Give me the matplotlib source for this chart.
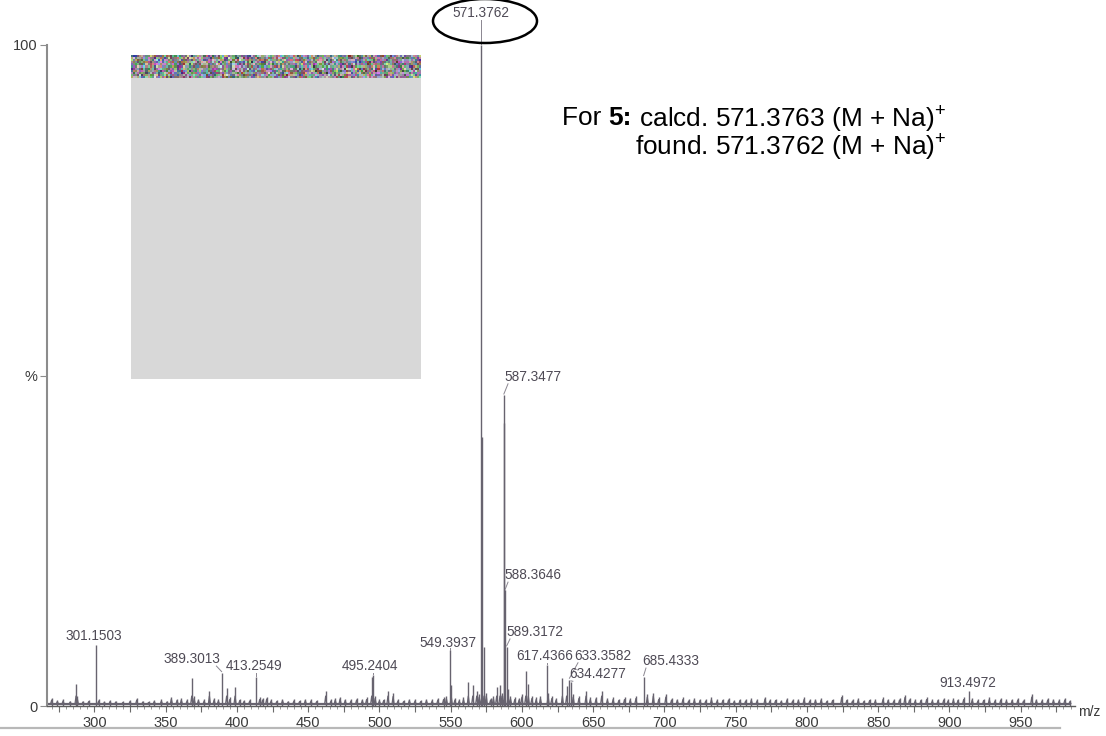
import numpy as np
import matplotlib
matplotlib.use("Agg")
import matplotlib.pyplot as plt
from matplotlib.patches import Ellipse, Rectangle
from matplotlib.lines import Line2D
from matplotlib.transforms import offset_copy

plt.rcParams['font.family'] = ['Liberation Sans', 'DejaVu Sans']
plt.rcParams['mathtext.fontset'] = 'custom'
plt.rcParams['mathtext.rm'] = 'Liberation Sans'
plt.rcParams['mathtext.bf'] = 'Liberation Sans:bold'

# Labelled peaks (m/z, relative intensity %)
peak_mz = [301.1503, 389.3013, 413.2549, 495.2404, 549.3937, 571.3762,
           587.3477, 588.3646, 589.3172, 617.4366, 633.3582, 634.4277,
           685.4333, 913.4972]
peak_int = [9.3, 5.0, 4.4, 4.7, 8.5, 100.0,
            47.0, 17.5, 8.9, 6.2, 4.0, 3.6,
            4.4, 2.2]

# Label anchor (centre) for each labelled peak, m/z and %
label_mz = [299.6, 368.1, 412.0, 493.4, 548.1, 571.4,
            607.8, 607.8, 609.2, 616.2, 656.9, 653.3,
            704.6, 913.1]
label_int = [10.6, 7.1, 6.05, 6.05, 9.5, 104.9,
             49.8, 19.8, 11.2, 7.6, 7.6, 4.8,
             6.8, 3.5]

# Unlabelled signals
minor_mz = [270, 274, 278, 283, 287.1, 288, 292, 296, 303, 307, 311, 315, 320,
            325, 329.7, 334, 338, 342, 347, 351, 354, 358, 361, 365, 368.3, 370,
            373, 377, 380.7, 384, 387, 392.8, 395, 398.7, 402, 405, 409, 416,
            418, 420.9, 424, 428, 432, 436, 440, 444, 448, 452, 456, 462.3, 466,
            469, 472.4, 476, 480, 484, 488, 491, 494.6, 497, 500, 503, 506,
            509.6, 513, 517, 521, 525, 529, 533, 537, 541, 545, 547, 550.4, 553,
            556, 559, 562.4, 565.5, 568.3, 570, 571.9, 573.4, 575, 578, 580,
            582.3, 584.6, 586, 587.7, 590.3, 592, 595, 598, 600, 602.7, 604.5,
            607, 610, 613, 618.4, 621, 624, 628.4, 631.4, 636, 640, 645, 648,
            652, 656, 660, 664, 668, 672, 676, 680, 688, 692.2, 696, 701, 705,
            709, 713, 717, 721, 725, 729, 733, 737, 741, 745, 749, 753, 757,
            761, 765, 770.6, 774, 778, 782, 786, 790, 794, 798, 802, 806, 810,
            814, 818, 824.4, 828, 832, 836, 840, 844, 848, 853.4, 857, 861, 865,
            868.8, 872, 876, 880, 884, 888, 892, 896, 899, 902.8, 906, 910, 916,
            920, 924, 928, 932, 936, 940, 944, 948, 952, 957.8, 961, 965, 969,
            973, 977, 981, 984.6]
minor_int = [1.2, 0.9, 1.0, 0.8, 3.3, 1.5, 0.8, 0.9, 1.0, 0.7, 0.9, 0.8, 0.7,
             0.9, 1.2, 0.8, 0.7, 0.9, 1.0, 0.8, 1.4, 1.1, 1.2, 1.0, 4.3, 1.5,
             1.1, 1.0, 2.3, 1.2, 1.0, 2.7, 1.3, 2.9, 1.1, 0.9, 1.0, 1.3,
             1.2, 1.4, 1.0, 0.9, 1.1, 0.8, 1.0, 0.9, 1.1, 1.0, 0.9, 2.3, 1.0,
             1.2, 1.4, 1.1, 1.0, 1.2, 1.1, 1.3, 4.4, 1.5, 1.0, 1.1, 2.2,
             1.9, 1.0, 0.9, 1.1, 1.0, 0.9, 1.1, 1.0, 1.2, 1.3, 1.5, 3.2, 1.2,
             1.0, 1.3, 3.7, 3.2, 2.2, 1.8, 40.7, 9.0, 2.0, 1.2, 1.5,
             2.9, 3.2, 2.0, 42.8, 2.5, 1.5, 1.3, 1.2, 1.8, 5.3, 3.4,
             1.5, 1.3, 1.5, 2.0, 1.5, 1.2, 4.2, 3.0, 1.8, 1.5, 2.2, 1.3,
             1.4, 2.2, 1.2, 1.3, 1.1, 1.3, 1.2, 1.5, 1.8, 2.0, 1.3, 1.8, 1.2,
             1.1, 1.3, 1.0, 1.2, 1.1, 1.0, 1.3, 1.0, 1.1, 1.2, 0.9, 1.1, 1.0,
             1.2, 1.0, 1.4, 1.0, 1.1, 0.9, 1.2, 1.0, 1.1, 1.3, 1.0, 1.1, 1.2,
             0.9, 1.1, 1.7, 1.1, 1.0, 1.2, 0.9, 1.1, 1.0, 1.3, 1.1, 1.0, 1.2,
             1.7, 1.2, 1.0, 1.1, 1.3, 1.0, 1.1, 1.2, 1.0, 1.2, 1.1, 1.3, 1.2,
             1.0, 1.1, 1.3, 1.0, 1.2, 1.0, 1.1, 1.2, 1.0, 1.8, 1.1, 1.0, 1.2,
             1.1, 1.0, 1.2, 0.9]

x_ticks = list(range(275, 976, 25))
x_labels = [str(t) if t % 50 == 0 else '' for t in x_ticks]
y_ticks = [0, 50, 100]
y_labels = ['0', '%', '100']

W, H = 1106, 736
fig = plt.figure(figsize=(W / 100, H / 100), dpi=100)
fig.patch.set_facecolor('white')


def fx(px):
    return px / W


def fy(py):
    return 1 - py / H


# spectrum axes: 1.425 px per m/z unit, 300 at x=94.4 px; 0 % at y=706, 100 % at y=45
x0, x1 = 47, 1075
mz_lo = 300 - (94.4 - x0) / 1.425
mz_hi = 300 + (x1 - 94.4) / 1.425
ax = fig.add_axes([fx(x0), fy(706), fx(x1) - fx(x0), (706 - 45) / H])
ax.set_xlim(mz_lo, mz_hi)
ax.set_ylim(0, 100)

stick = '#67636f'
text_c = '#4e4a55'

# noise floor drawn as a continuous trace through the small signals
trace_x, trace_y = [267.5], [0.3]
for m, h in zip(minor_mz, minor_int):
    trace_x += [m - 0.7, m, m + 0.7]
    trace_y += [0.35, min(h, 2.0) * 0.75, 0.35]
trace_x.append(985.0)
trace_y.append(0.3)
ax.plot(trace_x, trace_y, color=stick, lw=0.9, zorder=2)
ax.hlines(0.25, 267.5, 985, color=stick, lw=1.6, zorder=2)
ax.vlines(minor_mz, 0, minor_int, color=stick, lw=1.0, zorder=2)
ax.vlines(peak_mz, 0, peak_int, color=stick, lw=1.0, zorder=3, clip_on=False)

# peak labels with leader lines
px_mz = 1 / 1.425
px_pct = 100 / 661
for m, h, lm, li in zip(peak_mz, peak_int, label_mz, label_int):
    s = f"{m:.4f}"
    ax.text(lm, li, s, ha='center', va='center', fontsize=9.8, color=text_c,
            clip_on=False, zorder=4)
    half = 28 * px_mz
    sx = min(max(m, lm - half + 3 * px_mz), lm + half - 3 * px_mz)
    sy = li - 7 * px_pct
    ax.plot([sx, m], [sy, h + 0.2], color='#8a8690', lw=0.7, clip_on=False,
            zorder=3)

ax.spines['top'].set_visible(False)
ax.spines['right'].set_visible(False)
ax.spines['left'].set_color('#8c8c8c')
ax.spines['left'].set_linewidth(1.5)
ax.spines['bottom'].set_color('#5a5a5a')
ax.spines['bottom'].set_linewidth(1.0)

ax.set_xticks(x_ticks)
ax.set_xticklabels(x_labels)
ax.set_xticks(np.arange(270, 986, 5), minor=True)
ax.tick_params(axis='x', which='major', length=4, width=0.8, color='#6a6a6a',
               labelsize=10.5, labelcolor='#3a3a3a', pad=3)
ax.tick_params(axis='x', which='minor', length=2.5, width=0.6, color='#8a8a8a')
ax.set_yticks(y_ticks)
ax.set_yticklabels(y_labels)
ax.tick_params(axis='y', length=5, width=0.8, color='#8c8c8c', labelsize=10.5,
               labelcolor='#3a3a3a', pad=2)

fig.text(fx(1078), fy(712), 'm/z', fontsize=10, color='#3a3a3a',
         ha='left', va='center')

# page rule below the axis
fig.add_artist(Line2D([0, fx(1060)], [fy(728), fy(728)], color='#b8b8b8',
                      lw=1.6))

# grey panel with speckled header
fig.add_artist(Rectangle((fx(131), fy(379)), fx(421) - fx(131),
                         (379 - 78) / H, transform=fig.transFigure,
                         facecolor='#d8d8d8', edgecolor='none'))
nax = fig.add_axes([fx(131), fy(78), fx(421) - fx(131), (78 - 55) / H])
rng = np.random.default_rng(11)
speckle = 0.5 * rng.random((11, 140, 3)) + 0.3 * rng.random((11, 140, 1)) + 0.15
nax.imshow(np.clip(speckle, 0, 1), aspect='auto', interpolation='nearest')
nax.axis('off')

# highlight ring around the base peak label
fig.add_artist(Ellipse((fx(485), fy(21)), fx(104), 44 / H,
                       transform=fig.transFigure, fill=False,
                       edgecolor='black', lw=1.8))

# formula annotation, built from pieces so the compound number can be bold
renderer = fig.canvas.get_renderer()
fs = 18.9
base = fig.transFigure
xpos = 0.0
pieces = [('For ', 'normal'), ('5:', 'bold'),
          (' calcd. 571.3763 (M + Na)$^{+}$', 'normal')]
line1_left = fx(562)
for txt, wt in pieces:
    t = fig.text(line1_left, fy(118), txt, fontsize=fs, fontweight=wt,
                 color='black', ha='left', va='center',
                 transform=offset_copy(base, fig=fig, x=xpos, y=0,
                                       units='dots'))
    xpos += t.get_window_extent(renderer).width
line1_right = line1_left * W + xpos
fig.text(line1_right / W, fy(146), 'found. 571.3762 (M + Na)$^{+}$',
         fontsize=fs, color='black', ha='right', va='center')

fig.savefig('out.png', dpi=100)
